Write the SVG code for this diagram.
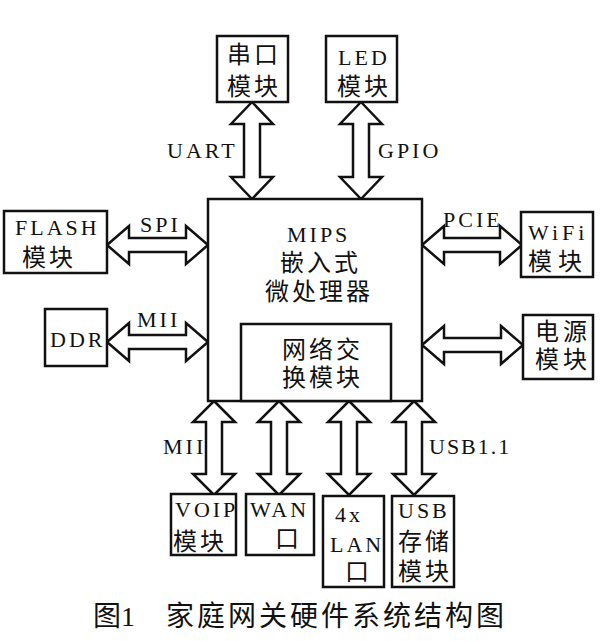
<svg xmlns="http://www.w3.org/2000/svg" width="600" height="641" viewBox="0 0 600 641">
<style>
.box{fill:#fff;stroke:#111;stroke-width:2.5}
.arr{fill:#fff;stroke:#111;stroke-width:2.5;stroke-linejoin:miter}
text{font-family:"Liberation Serif","Noto Sans CJK SC",serif;fill:#111}
.l{font-size:22px;letter-spacing:3px}
.c{font-size:24px;letter-spacing:3px}
.cap{font-size:28px;letter-spacing:3px}
</style>
<rect width="600" height="641" fill="#fff"/>
<g id="connectors">
<polygon class="arr" points="252,102 273,124 260,124 260,177 273,177 252,199 231,177 244,177 244,124 231,124"/>
<polygon class="arr" points="361,102 382,124 369,124 369,177 382,177 361,199 340,177 353,177 353,124 340,124"/>
<polygon class="arr" points="107,245 129,226 129,238 186,238 186,226 208,245 186,264 186,252 129,252 129,264"/>
<polygon class="arr" points="107,342 129,323 129,335 186,335 186,323 208,342 186,361 186,349 129,349 129,361"/>
<polygon class="arr" points="422,245 444,226 444,238 500,238 500,226 522,245 500,264 500,252 444,252 444,264"/>
<polygon class="arr" points="422,345 444,326 444,338 501,338 501,326 523,345 501,364 501,352 444,352 444,364"/>
<polygon class="arr" points="214,401 235,422 222,422 222,474 235,474 214,495 193,474 206,474 206,422 193,422"/>
<polygon class="arr" points="279,401 300,422 287,422 287,474 300,474 279,495 258,474 271,474 271,422 258,422"/>
<polygon class="arr" points="349,401 370,422 357,422 357,474 370,474 349,495 328,474 341,474 341,422 328,422"/>
<polygon class="arr" points="414,401 435,422 422,422 422,474 435,474 414,495 393,474 406,474 406,422 393,422"/>
<text class="l" x="167" y="158">UART</text>
<text class="l" x="378" y="158">GPIO</text>
<text class="l" x="140" y="232">SPI</text>
<text class="l" x="137" y="327">MII</text>
<text class="l" x="443" y="227">PCIE</text>
<text class="l" x="163" y="454">MII</text>
<text class="l" x="429" y="454" style="letter-spacing:2px">USB1.1</text>
</g>
<g id="uart-module">
<rect class="box" x="217" y="36" width="71" height="66"/>
<text class="c" x="227" y="63">串口</text>
<text class="c" x="227" y="95">模块</text>
</g>
<g id="led-module">
<rect class="box" x="326" y="36" width="71" height="66"/>
<text class="l" x="338" y="65">LED</text>
<text class="c" x="337" y="95">模块</text>
</g>
<g id="flash-module">
<rect class="box" x="4" y="211" width="103" height="62"/>
<text class="l" x="15" y="235">FLASH</text>
<text class="c" x="22" y="266">模块</text>
</g>
<g id="ddr">
<rect class="box" x="45" y="309" width="62" height="57"/>
<text class="l" x="50" y="347">DDR</text>
</g>
<g id="wifi-module">
<rect class="box" x="521" y="212" width="72" height="65"/>
<text class="l" x="528" y="240" style="letter-spacing:4px">WiFi</text>
<text class="c" x="528" y="270" style="letter-spacing:6px">模块</text>
</g>
<g id="power-module">
<rect class="box" x="523" y="315" width="70" height="64"/>
<text class="c" x="535" y="340" style="letter-spacing:4px">电源</text>
<text class="c" x="535" y="368" style="letter-spacing:4px">模块</text>
</g>
<g id="mips-cpu">
<rect class="box" x="208" y="199" width="214" height="202"/>
<text class="l" x="287" y="242">MIPS</text>
<text class="c" x="280" y="271">嵌入式</text>
<text class="c" x="265" y="300">微处理器</text>
</g>
<g id="switch-module">
<rect class="box" x="241" y="324" width="150" height="77"/>
<text class="c" x="282" y="358">网络交</text>
<text class="c" x="282" y="386">换模块</text>
</g>
<g id="voip-module">
<rect class="box" x="171" y="494" width="65" height="61"/>
<text class="l" x="175" y="517">VOIP</text>
<text class="c" x="173" y="550">模块</text>
</g>
<g id="wan-port">
<rect class="box" x="246" y="494" width="68" height="61"/>
<text class="l" x="250" y="517">WAN</text>
<text class="c" x="275" y="547">口</text>
</g>
<g id="lan-port">
<rect class="box" x="323" y="496" width="61" height="91"/>
<text class="l" x="335" y="522">4x</text>
<text class="l" x="330" y="552">LAN</text>
<text class="c" x="345" y="580">口</text>
</g>
<g id="usb-storage">
<rect class="box" x="392" y="496" width="62" height="91"/>
<text class="l" x="398" y="518">USB</text>
<text class="c" x="398" y="550">存储</text>
<text class="c" x="398" y="580">模块</text>
</g>
<g id="caption">
<text class="cap" x="93" y="626" style="letter-spacing:0">图1</text>
<text class="cap" x="166" y="626">家庭网关硬件系统结构图</text>
</g>
</svg>
